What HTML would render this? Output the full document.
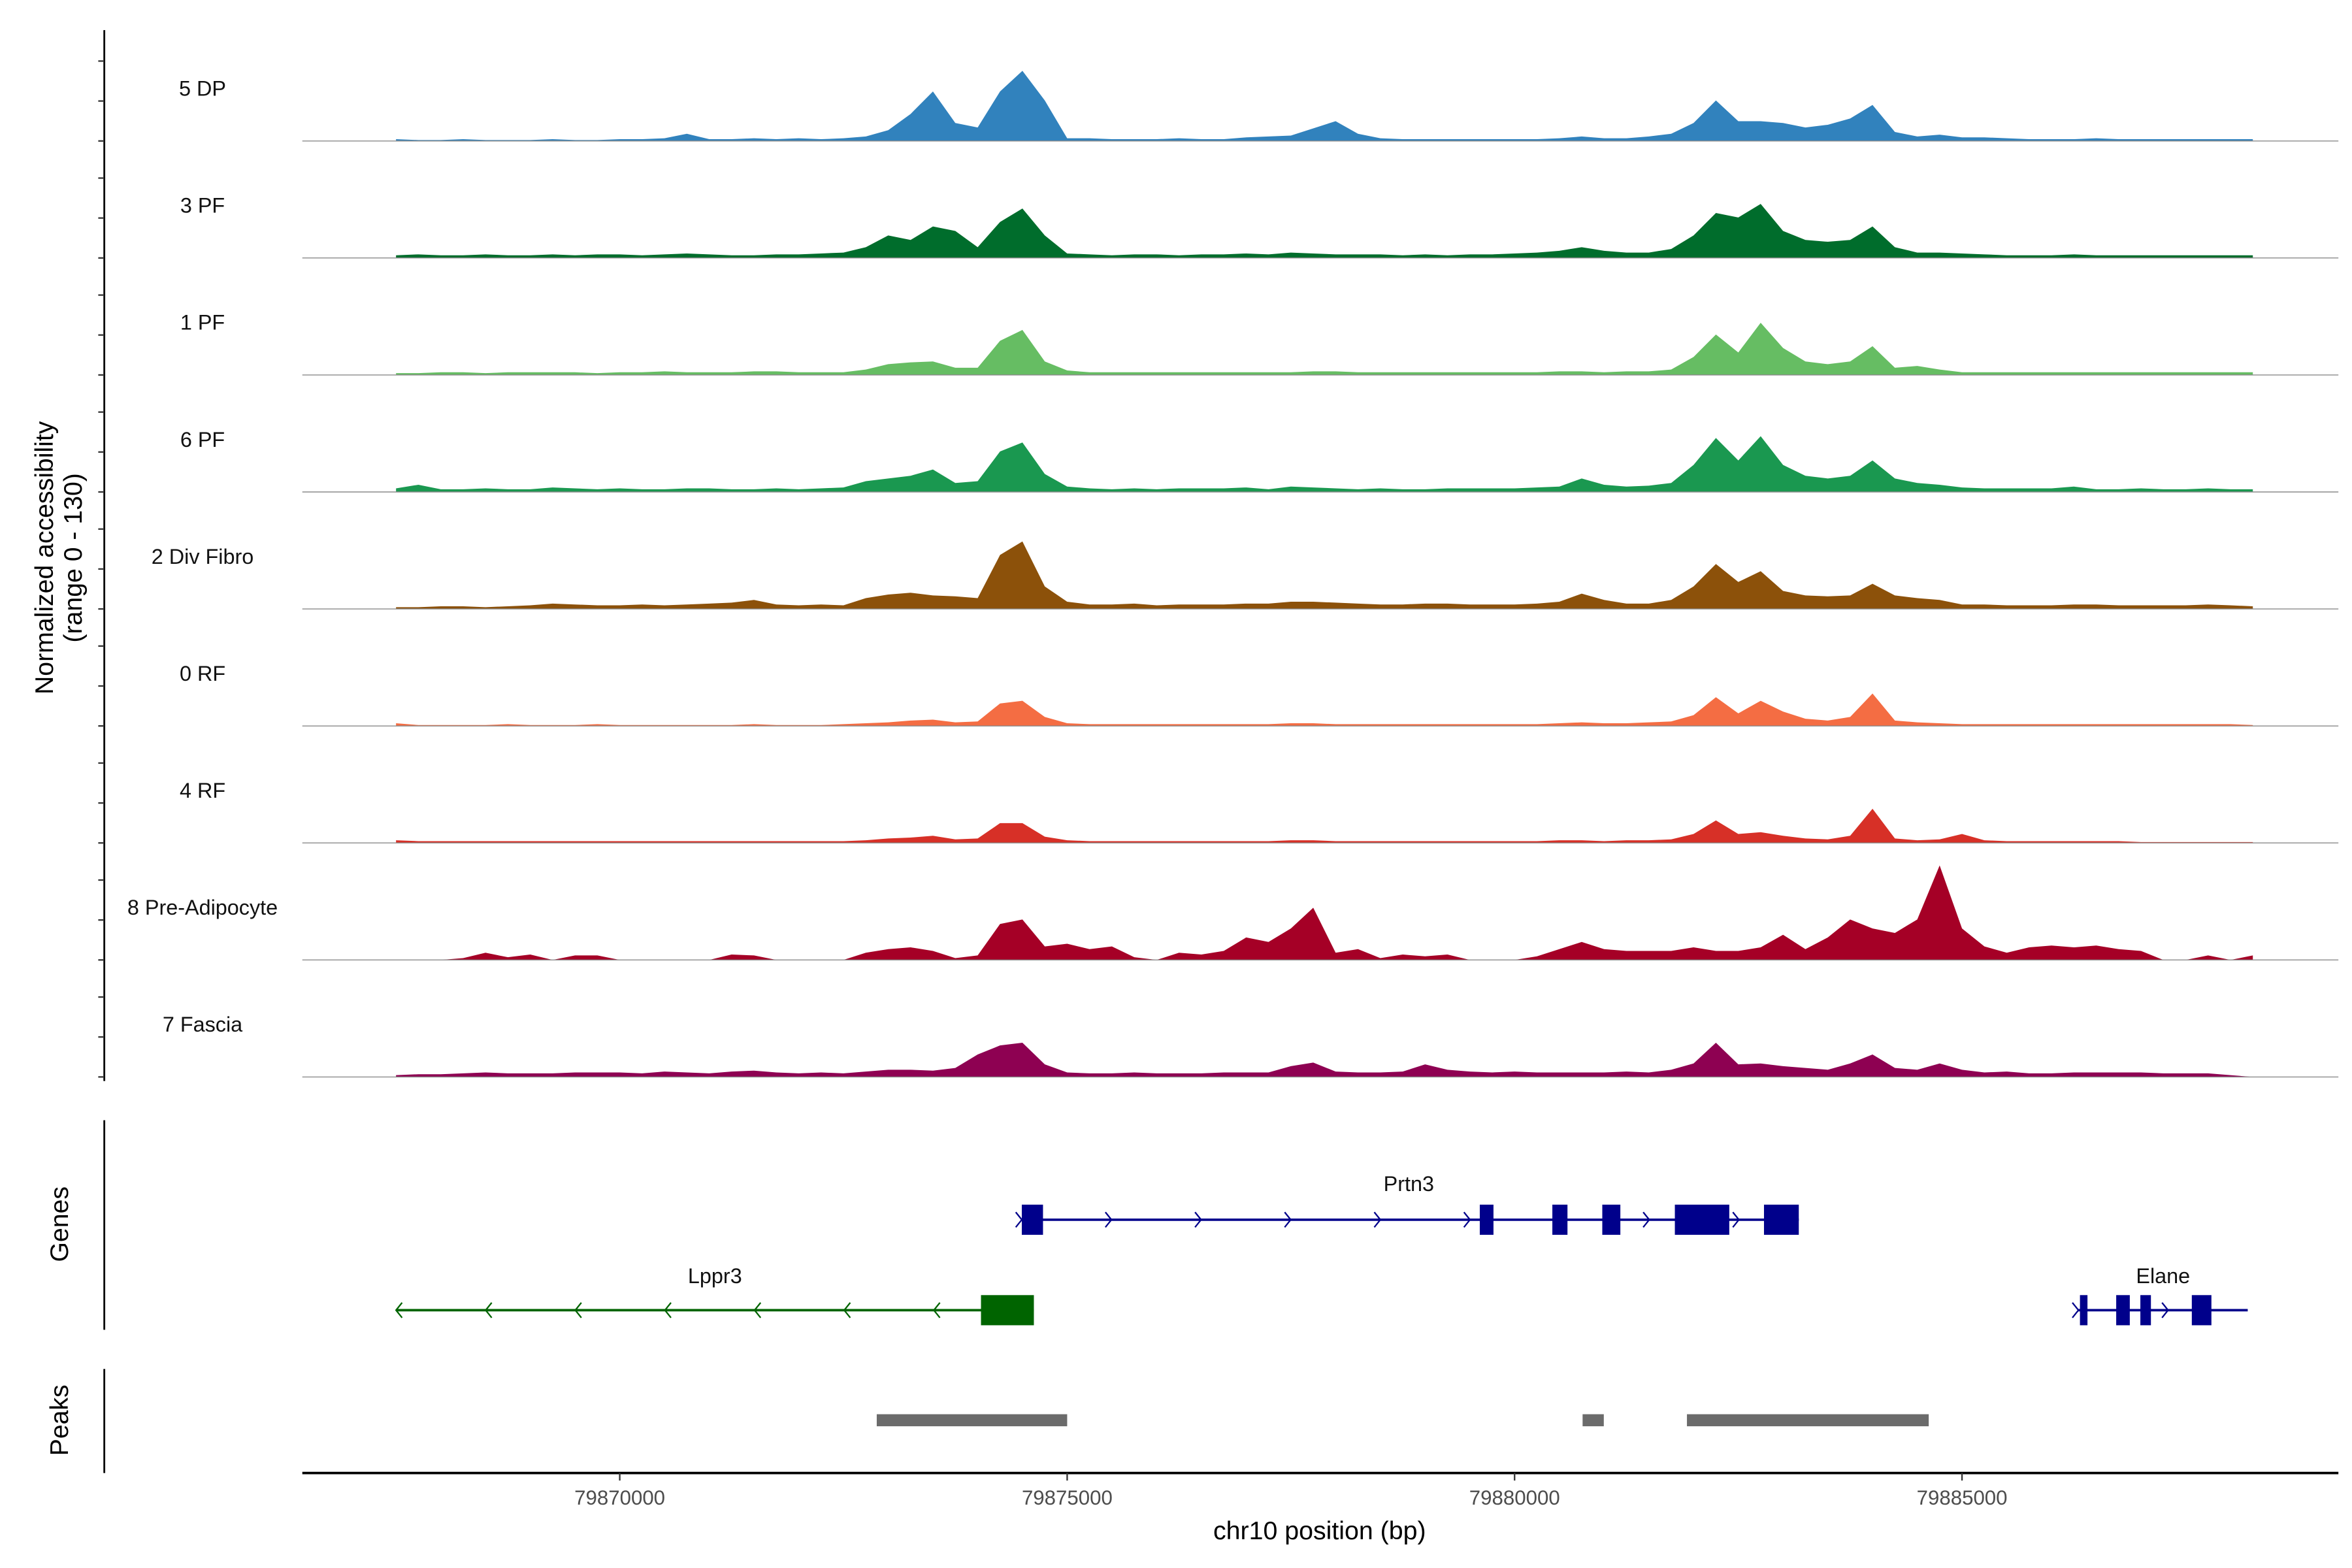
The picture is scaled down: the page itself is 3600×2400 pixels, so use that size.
<!DOCTYPE html>
<html><head><meta charset="utf-8"><style>
html,body{margin:0;padding:0;background:#fff}
svg{display:block;font-family:"Liberation Sans",sans-serif}
</style></head><body>
<svg id="chart" width="3600" height="2400" viewBox="0 0 1556 1040" preserveAspectRatio="none" xmlns="http://www.w3.org/2000/svg">
<rect width="1556" height="1040" fill="#fff"/>
<g id="tracks"></g>
<g id="genes"></g>
<g id="peaks"></g>
<g id="axes"></g>
</svg>
<script>
const trackNames = ["5 DP","3 PF","1 PF","6 PF","2 Div Fibro","0 RF","4 RF","8 Pre-Adipocyte","7 Fascia"];
const trackColors = ["#3182bd","#006d2c","#66bd63","#1a9850","#8c510a","#f46d43","#d73027","#a50026","#8e0152"];
const binStart = 79867500;
const binSize = 250;
const sDP5 = [2,1,1,2,1,1,1,2,1,1,2,2,3,8,2,2,3,2,3,2,3,5,12,30,55,20,15,55,78,45,3,3,2,2,2,3,2,2,4,5,6,14,22,8,3,2,2,2,2,2,2,2,3,5,3,3,5,8,20,45,22,22,20,15,18,25,40,10,5,7,4,4,3,2,2,2,3,2,2,2,2,2,2,2];
const sPF3 = [3,4,3,3,4,3,3,4,3,4,4,3,4,5,4,3,3,4,4,5,6,12,25,20,35,30,12,40,55,25,5,4,3,4,4,3,4,4,5,4,6,5,4,4,4,3,4,3,4,4,5,6,8,12,8,6,6,10,25,50,45,60,30,20,18,20,35,12,6,6,5,4,3,3,3,4,3,3,3,3,3,3,3,3];
const sPF1 = [2,2,3,3,2,3,3,3,3,2,3,3,4,3,3,3,4,4,3,3,3,6,12,14,15,8,8,38,50,15,5,3,3,3,3,3,3,3,3,3,3,4,4,3,3,3,3,3,3,3,3,3,4,4,3,4,4,6,20,45,25,58,30,15,12,15,32,8,10,6,3,3,3,3,3,3,3,3,3,3,3,3,3,3];
const sPF6 = [4,8,3,3,4,3,3,5,4,3,4,3,3,4,4,3,3,4,3,4,5,12,15,18,25,10,12,45,55,20,6,4,3,4,3,4,4,4,5,3,6,5,4,3,4,3,3,4,4,4,4,5,6,15,8,6,7,10,30,60,35,62,30,18,15,18,35,15,10,8,5,4,4,4,4,6,3,3,4,3,3,4,3,3];
const sDF2 = [2,2,3,3,2,3,4,6,5,4,4,5,4,5,6,7,10,5,4,5,4,12,16,18,15,14,12,60,75,25,8,5,5,6,4,5,5,5,6,6,8,8,7,6,5,5,6,6,5,5,5,6,8,17,10,6,6,10,25,50,30,42,20,15,14,15,28,15,12,10,5,5,4,4,4,5,5,4,4,4,4,5,4,3];
const sRF0 = [3,1,1,1,1,2,1,1,1,2,1,1,1,1,1,1,2,1,1,1,2,3,4,6,7,4,5,25,28,10,3,2,2,2,2,2,2,2,2,2,3,3,2,2,2,2,2,2,2,2,2,2,3,4,3,3,4,5,12,32,14,28,16,8,6,10,36,6,4,3,2,2,2,2,2,2,2,2,2,2,2,2,2,1];
const sRF4 = [3,2,2,2,2,2,2,2,2,2,2,2,2,2,2,2,2,2,2,2,2,3,5,6,8,4,5,22,22,7,3,2,2,2,2,2,2,2,2,2,3,3,2,2,2,2,2,2,2,2,2,2,3,3,2,3,3,4,10,25,10,12,8,5,4,8,38,5,3,4,10,3,2,2,2,2,2,2,1,1,1,1,1,1];
const sPA8 = [0,0,0,2,8,3,6,0,5,5,0,0,0,0,0,6,5,0,0,0,0,8,12,14,10,2,5,40,45,15,18,12,15,3,0,8,6,10,25,20,35,58,8,12,2,6,4,6,0,0,0,4,12,20,12,10,10,10,14,10,10,14,28,12,25,45,35,30,45,105,35,15,8,14,16,14,16,12,10,0,0,5,0,5];
const sFA7 = [2,3,3,4,5,4,4,4,5,5,5,4,6,5,4,6,7,5,4,5,4,6,8,8,7,10,25,35,38,14,5,4,4,5,4,4,4,5,5,5,12,16,6,5,5,6,14,8,6,5,6,5,5,5,5,6,5,8,15,38,14,15,12,10,8,15,25,10,8,15,8,5,6,4,4,5,5,5,5,4,4,4,2,0];
const trackValues = [sDP5,sPF3,sPF1,sPF6,sDF2,sRF0,sRF4,sPA8,sFA7];
const axisTicks = [79870000,79875000,79880000,79885000];
const geneNames = ["Prtn3","Lppr3","Elane"];
const geneStarts = [79874493,79867500,79886301];
const geneEnds = [79883176,79874628,79888193];
const geneStrands = [1,-1,1];
const geneExonStarts = [[79874493,79879611,79880422,79880980,79881791,79882787],[79874037],[79886318,79886723,79886993,79887568]];
const geneExonEnds = [[79874730,79879764,79880591,79881182,79882399,79883176],[79874628],[79886402,79886875,79887111,79887787]];
const peakStarts = [79872872,79880760,79881926];
const peakEnds = [79875000,79880997,79884628];

const NS="http://www.w3.org/2000/svg";
function x(bp){return 410+(bp-79870000)*0.0592;}
const yMax=130, trackH=77.6, base0=93.5;
function yv(v,t){return base0+t*trackH - v/yMax*trackH;}
function mk(tag,attrs,parent){const e=document.createElementNS(NS,tag);for(const k in attrs)e.setAttribute(k,attrs[k]);parent.appendChild(e);return e;}

const gT=document.getElementById('tracks');
trackValues.forEach((vals,t)=>{
  const b=base0+t*trackH;
  let d="M"+x(binStart)+","+b;
  vals.forEach((v,i)=>{d+=" L"+x(binStart+i*binSize).toFixed(2)+","+yv(v,t).toFixed(2);});
  d+=" L"+x(binStart+(vals.length-1)*binSize)+","+b+" Z";
  const p=mk('path',{d:d,fill:trackColors[t],stroke:'none'},gT);
  
  
  const l=mk('line',{x1:200,x2:1547,y1:b,y2:b,stroke:'#8a8a8a','stroke-width':0.6},gT);
  
  
  const tx=mk('text',{x:134,y:b-30,'text-anchor':'middle','font-size':'14',fill:'#111'},gT);
  tx.textContent=trackNames[t];
  
  
});

const gA=document.getElementById('axes');
mk('line',{x1:69,x2:69,y1:20,y2:717,stroke:'#000','stroke-width':1.2},gA);
for(let t=0;t<9;t++){for(let k=0;k<3;k++){const y=base0+t*trackH-k*26.5;
  const tk=mk('line',{x1:65,x2:69,y1:y,y2:y,stroke:'#333','stroke-width':1},gA);
  
  }}
const yt=mk('text',{transform:'translate(35,370) rotate(-90)','text-anchor':'middle','font-size':'17',fill:'#000'},gA);
yt.textContent='Normalized accessibility';


const yt2=mk('text',{transform:'translate(54,370) rotate(-90)','text-anchor':'middle','font-size':'17',fill:'#000'},gA);
yt2.textContent='(range 0 - 130)';


mk('line',{x1:69,x2:69,y1:743,y2:882,stroke:'#000','stroke-width':1.2},gA);
mk('line',{x1:69,x2:69,y1:908,y2:977,stroke:'#000','stroke-width':1.2},gA);
const gt=mk('text',{transform:'translate(45,812) rotate(-90)','text-anchor':'middle','font-size':'17',fill:'#000'},gA);
gt.textContent='Genes';


const pt=mk('text',{transform:'translate(45,942) rotate(-90)','text-anchor':'middle','font-size':'17',fill:'#000'},gA);
pt.textContent='Peaks';


mk('line',{x1:200,x2:1547,y1:977,y2:977,stroke:'#000','stroke-width':1.6},gA);
axisTicks.forEach(v=>{
  const tk=mk('line',{x1:x(v),x2:x(v),y1:977,y2:982,stroke:'#333','stroke-width':1},gA);
  
  
  const tl=mk('text',{x:x(v),y:998,'text-anchor':'middle','font-size':'13.5',fill:'#4d4d4d'},gA);
  tl.textContent=String(v);
  
  
});
const xt=mk('text',{x:873,y:1021,'text-anchor':'middle','font-size':'17',fill:'#000'},gA);
xt.textContent='chr10 position (bp)';



const gG=document.getElementById('genes');
const rowY=[809,869,869], labY=[790,851,851], gCol=['#00008b','#006400','#00008b'];
geneNames.forEach((n,g)=>{
  const y=rowY[g], c=gCol[g];
  const ln=mk('line',{x1:x(geneStarts[g]),x2:x(geneEnds[g]),y1:y,y2:y,stroke:c,'stroke-width':1.6},gG);
  
  
  const step=59.3;
  for(let p=x(geneStarts[g]);p<=x(geneEnds[g])+1;p+=step){
    const s=geneStrands[g]*4;
    const ch=mk('path',{d:`M${p-s},${y-5} L${p},${y} L${p-s},${y+5}`,fill:'none',stroke:c,'stroke-width':1},gG);
    
    
  }
  geneExonStarts[g].forEach((s,k)=>{
    const r=mk('rect',{x:x(s),y:y-10,width:x(geneExonEnds[g][k])-x(s),height:20,fill:c},gG);
    
    
  });
  const lb=mk('text',{x:(x(geneStarts[g])+x(geneEnds[g]))/2,y:labY[g],'text-anchor':'middle','font-size':'14',fill:'#111'},gG);
  if(g===0) lb.setAttribute('x', 932);
  if(g===2) lb.setAttribute('x', 1431);
  lb.textContent=n;
  
  
});

const gP=document.getElementById('peaks');
peakStarts.forEach((s,i)=>{
  const r=mk('rect',{x:x(s),y:938,width:x(peakEnds[i])-x(s),height:8,fill:'#6b6b6b'},gP);
  
  
});
</script>
</body></html>
